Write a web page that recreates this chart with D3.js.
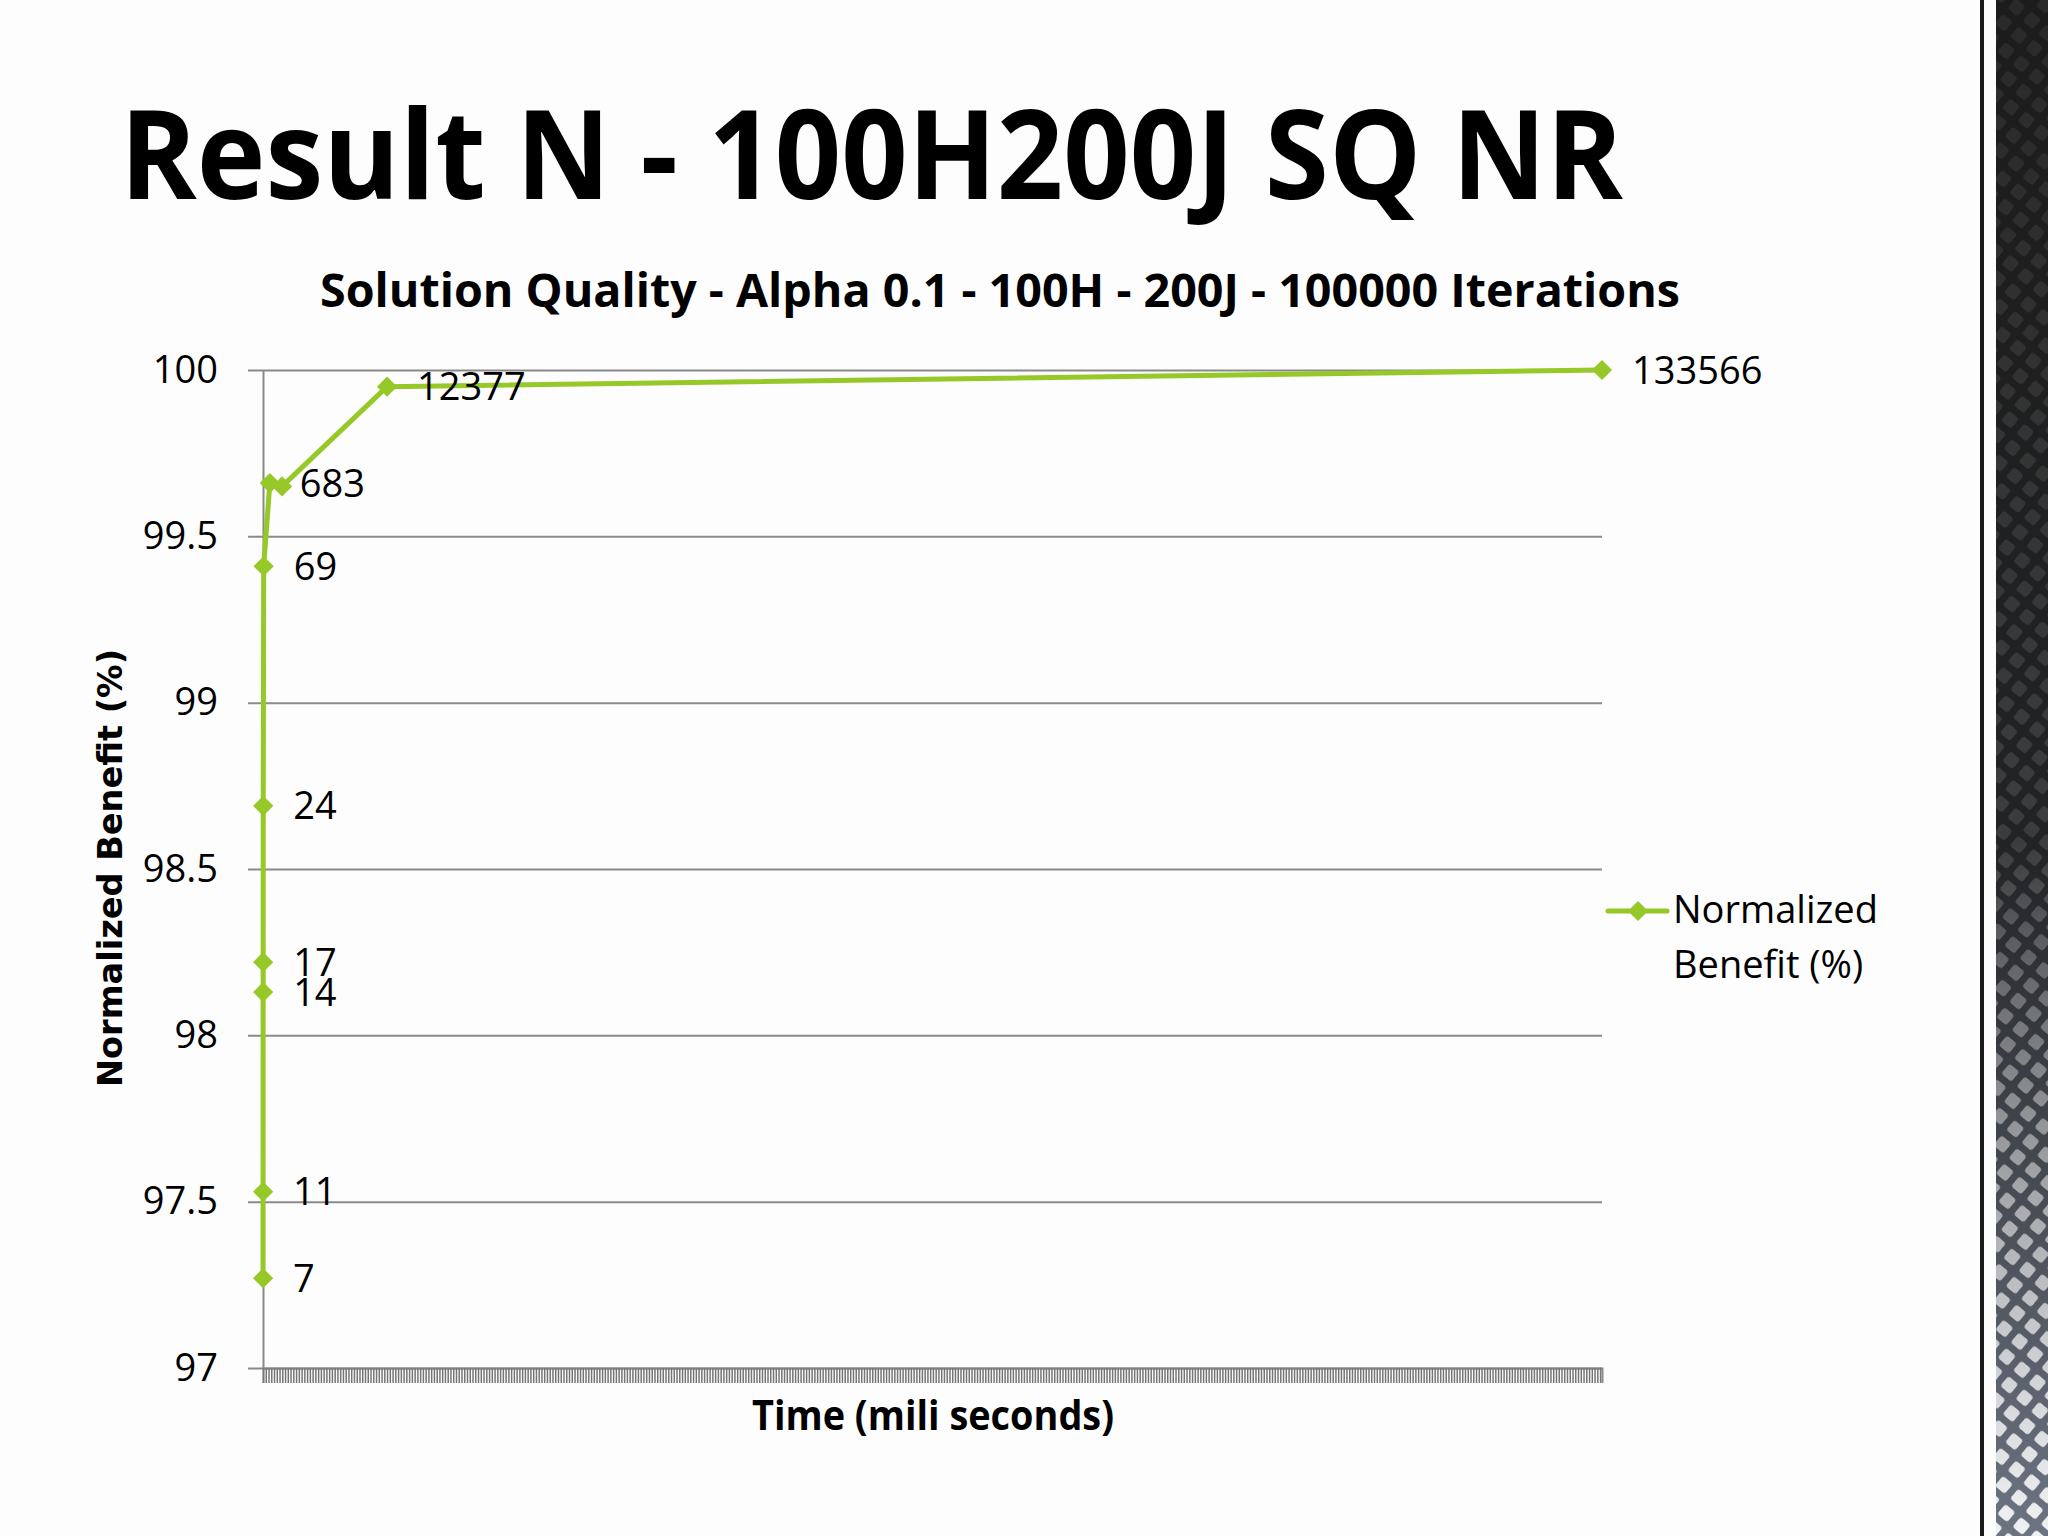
<!DOCTYPE html>
<html>
<head>
<meta charset="utf-8">
<script src="https://cdn.jsdelivr.net/npm/d3@7"></script>
<style>
  html, body { margin: 0; padding: 0; background: #ffffff; }
  svg { display: block; }
</style>
</head>
<body>
<svg id="chart" width="2048" height="1536"></svg>
<script>
// ---- data ----
const slideTitle = "Result N - 100H200J SQ NR";
const chartTitle = "Solution Quality - Alpha 0.1 - 100H - 200J - 100000 Iterations";
const xTitle = "Time (mili seconds)";
const yTitle = "Normalized Benefit (%)";
const seriesName = ["Normalized", "Benefit (%)"];
const timeMs = [7, 11, 14, 17, 24, 69, 683, 1900, 12377, 133566];
const benefit = [97.27, 97.53, 98.13, 98.22, 98.69, 99.41, 99.66, 99.65, 99.95, 100];
const pointLabels = ["7", "11", "14", "17", "24", "69", "683", "", "12377", "133566"];
const yTicks = [97, 97.5, 98, 98.5, 99, 99.5, 100];
const yTickLabels = ["97", "97.5", "98", "98.5", "99", "99.5", "100"];
const xMax = 133566;
const xTickStep = 275;

const GREEN = "#96C828";
const GRID = "#8a8a8a";
const FONT = "'Open Sans', 'Noto Sans', sans-serif";

const svg = d3.select("#chart");

// background
svg.append("rect").attr("width", 2048).attr("height", 1536).attr("fill", "#fdfdfd");

// ---- right decorative strip ----
const defs = svg.append("defs");
const pat = defs.append("pattern").attr("id", "dia")
  .attr("patternUnits", "userSpaceOnUse").attr("width", 20).attr("height", 20)
  .attr("patternTransform", "rotate(40)");
pat.append("rect").attr("x", 3).attr("y", 3).attr("width", 13).attr("height", 13).attr("rx", 3).attr("fill", "#ffffff");
const bgGrad = defs.append("linearGradient").attr("id", "bgGrad").attr("x1", 0).attr("y1", 0).attr("x2", 0).attr("y2", 1);
bgGrad.append("stop").attr("offset", "0").attr("stop-color", "#1c1c1c");
bgGrad.append("stop").attr("offset", "0.55").attr("stop-color", "#222325");
bgGrad.append("stop").attr("offset", "1").attr("stop-color", "#6c7482");
const mGrad = defs.append("linearGradient").attr("id", "mGrad").attr("x1", 0).attr("y1", 0).attr("x2", 0).attr("y2", 1);
mGrad.append("stop").attr("offset", "0").attr("stop-color", "#ffffff").attr("stop-opacity", 0.06);
mGrad.append("stop").attr("offset", "0.55").attr("stop-color", "#ffffff").attr("stop-opacity", 0.12);
mGrad.append("stop").attr("offset", "1").attr("stop-color", "#ffffff").attr("stop-opacity", 0.9);
const mask = defs.append("mask").attr("id", "fadeMask");
mask.append("rect").attr("x", 1996).attr("y", 0).attr("width", 52).attr("height", 1536).attr("fill", "url(#mGrad)");

svg.append("rect").attr("x", 1996).attr("y", 0).attr("width", 52).attr("height", 1536).attr("fill", "url(#bgGrad)");
svg.append("rect").attr("x", 1996).attr("y", 0).attr("width", 52).attr("height", 1536)
  .attr("fill", "url(#dia)").attr("mask", "url(#fadeMask)");
svg.append("rect").attr("x", 1980).attr("y", 0).attr("width", 4).attr("height", 1536).attr("fill", "#1a1a1a");

// ---- titles ----
svg.append("text").attr("x", 120).attr("y", 199)
  .attr("font-family", FONT).attr("font-weight", 700).attr("font-size", 124)
  .attr("fill", "#000").attr("textLength", 1503).attr("lengthAdjust", "spacingAndGlyphs")
  .text(slideTitle);

svg.append("text").attr("x", 320).attr("y", 307)
  .attr("font-family", FONT).attr("font-weight", 700).attr("font-size", 46)
  .attr("fill", "#000").attr("textLength", 1360).attr("lengthAdjust", "spacingAndGlyphs")
  .text(chartTitle);

// ---- scales ----
const x = d3.scaleLinear().domain([0, xMax]).range([263, 1602]);
const y = d3.scaleLinear().domain([97, 100]).range([1368, 370]);

// gridlines (extend 15px left of the axis)
const grid = svg.append("g").attr("transform", "translate(248,0)")
  .call(d3.axisRight(y).tickValues(yTicks).tickSize(1354).tickFormat(""));
grid.select(".domain").remove();
grid.selectAll("line").attr("stroke", GRID).attr("stroke-width", 2);

// y labels
const yAx = svg.append("g").attr("transform", "translate(263,0)")
  .call(d3.axisLeft(y).tickValues(yTicks).tickSize(0).tickPadding(45)
    .tickFormat((d, i) => yTickLabels[i]));
yAx.select(".domain").attr("stroke", GRID).attr("stroke-width", 2);
yAx.selectAll("text").attr("font-family", FONT).attr("font-size", 38).attr("fill", "#000");

// x axis with dense minor ticks
const xAx = svg.append("g").attr("transform", "translate(0,1368)")
  .call(d3.axisBottom(x).tickValues(d3.range(0, xMax + 1, xTickStep)).tickSize(15).tickFormat(""));
xAx.select(".domain").attr("stroke", GRID).attr("stroke-width", 2);
xAx.selectAll("line").attr("stroke", "#767676").attr("stroke-width", 1.5);

// axis titles
svg.append("text").attr("x", 933).attr("y", 1430).attr("text-anchor", "middle")
  .attr("font-family", FONT).attr("font-weight", 700).attr("font-size", 42)
  .attr("textLength", 362).attr("lengthAdjust", "spacingAndGlyphs")
  .text(xTitle);

svg.append("text").attr("transform", "translate(122,868) rotate(-90)").attr("text-anchor", "middle")
  .attr("font-family", "'DejaVu Sans', Verdana, sans-serif").attr("font-weight", 700).attr("font-size", 34)
  .attr("textLength", 438).attr("lengthAdjust", "spacingAndGlyphs")
  .text(yTitle);

// ---- series ----
const pts = timeMs.map((t, i) => ({ t, v: benefit[i], label: pointLabels[i] }));
svg.append("path").datum(pts)
  .attr("fill", "none").attr("stroke", GREEN).attr("stroke-width", 5).attr("stroke-linejoin", "round")
  .attr("d", d3.line().x(d => x(d.t)).y(d => y(d.v)));

const diamond = d3.symbol().type(d3.symbolDiamond2).size(260);
svg.append("g").selectAll("path").data(pts).join("path")
  .attr("transform", d => `translate(${x(d.t)},${y(d.v)})`)
  .attr("d", diamond).attr("fill", GREEN);

svg.append("g").selectAll("text").data(pts.filter(d => d.label !== "")).join("text")
  .attr("x", d => x(d.t) + 30).attr("y", d => y(d.v)).attr("dy", "0.36em")
  .attr("font-family", FONT).attr("font-size", 38).attr("fill", "#000")
  .text(d => d.label);

// ---- legend ----
const lg = svg.append("g");
lg.append("line").attr("x1", 1608).attr("x2", 1667).attr("y1", 911).attr("y2", 911)
  .attr("stroke", GREEN).attr("stroke-width", 5).attr("stroke-linecap", "round");
lg.append("path").attr("transform", "translate(1638,911)").attr("d", diamond).attr("fill", GREEN);
lg.selectAll("text").data(seriesName).join("text")
  .attr("x", 1673).attr("y", (d, i) => 923 + i * 55)
  .attr("font-family", FONT).attr("font-size", 38).attr("fill", "#000")
  .text(d => d);
</script>
</body>
</html>
